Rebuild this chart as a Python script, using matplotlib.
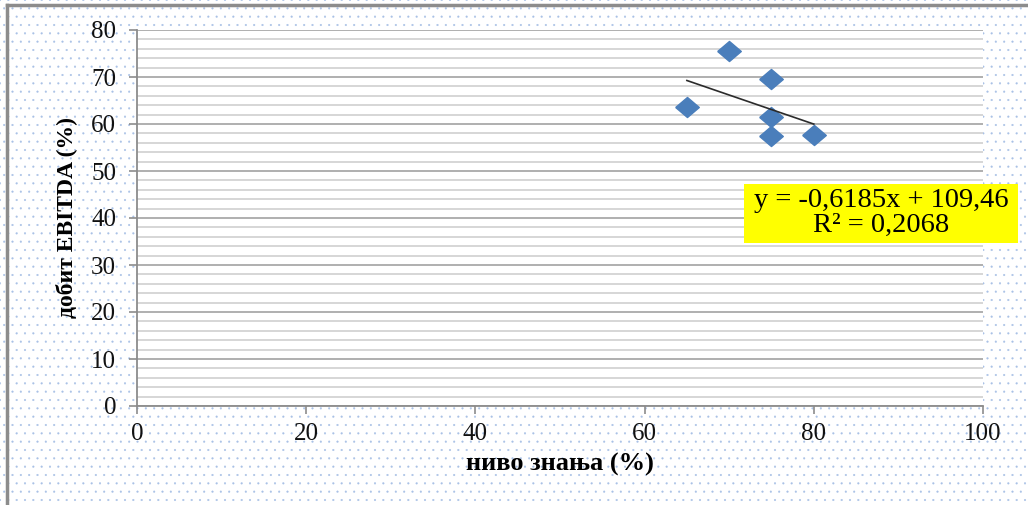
import numpy as np
import matplotlib
matplotlib.use("Agg")
import matplotlib.pyplot as plt
from matplotlib.patches import Rectangle
from matplotlib.lines import Line2D
from matplotlib.ticker import MultipleLocator

plt.rcParams['font.family'] = ['Liberation Serif', 'DejaVu Serif']
plt.rcParams['hatch.linewidth'] = 0.3

# podaci sa grafika
nivo_znanja = [70, 75, 65, 75, 75, 80]
dobit_ebitda = [75.5, 69.6, 63.7, 61.4, 57.4, 57.7]

# linija trenda (Excel)
nagib = -0.6185
odsecak = 109.46
r2 = 0.2068

x_oznake = [0, 20, 40, 60, 80, 100]
y_oznake = [0, 10, 20, 30, 40, 50, 60, 70, 80]

fig = plt.figure(figsize=(10.28, 5.05), dpi=100)
fig.patch.set_facecolor('white')

# tackasta pozadina
pozadina = Rectangle((0, 0), 1, 1, transform=fig.transFigure, facecolor='white',
                     edgecolor='#a9c1e6', linewidth=0, hatch='..', zorder=-10)
fig.add_artist(pozadina)

# okvir (levo i gore)
fig.add_artist(Line2D([7 / 1028, 7 / 1028], [0, 1 - 5 / 505], transform=fig.transFigure,
                      color='#8c8c8c', lw=2.5))
fig.add_artist(Line2D([7 / 1028, 1], [1 - 5 / 505, 1 - 5 / 505], transform=fig.transFigure,
                      color='#8c8c8c', lw=2.5))

ax = fig.add_axes([137 / 1028, 99 / 505, 846 / 1028, 376 / 505])
ax.set_facecolor('white')

ax.set_xlim(0, 100)
ax.set_ylim(0, 80)
ax.set_xticks(x_oznake)
ax.set_yticks(y_oznake)
ax.yaxis.set_minor_locator(MultipleLocator(2))

ax.grid(True, axis='y', which='major', color='#9a9a9a', lw=1.1)
ax.grid(True, axis='y', which='minor', color='#d6d6d6', lw=1.4)
ax.set_axisbelow(True)

for s in ['top', 'right']:
    ax.spines[s].set_visible(False)
for s in ['left', 'bottom']:
    ax.spines[s].set_color('#8c8c8c')
    ax.spines[s].set_linewidth(1.3)

ax.tick_params(axis='both', which='major', direction='out', length=6, width=1.2,
               color='#8c8c8c', labelsize=18, labelcolor='#111111')
ax.tick_params(axis='y', which='minor', length=0)
ax.tick_params(axis='y', pad=9)
ax.tick_params(axis='x', pad=6)

# markeri - romb
romb = [(-1, 0), (0, 0.85), (1, 0), (0, -0.85), (-1, 0)]
ax.plot(nivo_znanja, dobit_ebitda, linestyle='none', marker=romb, markersize=17,
        color='#4a7ebb', markeredgecolor='#4a7ebb', zorder=3)

# linija trenda
xt = np.array([min(nivo_znanja), max(nivo_znanja)])
ax.plot(xt, nagib * xt + odsecak, color='#2b2b2b', lw=1.2, zorder=4)

ax.set_xlabel('ниво знања (%)', fontsize=19, fontweight='bold', labelpad=6)
ax.set_ylabel('добит EBITDA (%)', fontsize=17, fontweight='bold', labelpad=10)

# zuti okvir sa jednacinom
fig.add_artist(Rectangle((744 / 1028, 262 / 505), 274 / 1028, 59 / 505,
                         transform=fig.transFigure, facecolor='#ffff00',
                         edgecolor='none', zorder=5))
jednacina = 'y = ' + f'{nagib:.4f}'.replace('.', ',') + 'x + ' + f'{odsecak:.2f}'.replace('.', ',')
r2_tekst = 'R² = ' + f'{r2:.4f}'.replace('.', ',')
fig.text(881 / 1028, 1 - 213 / 505, jednacina + '\n' + r2_tekst, ha='center', va='center',
         fontsize=20.5, linespacing=0.95, zorder=6)

fig.savefig('out.png', dpi=100)
